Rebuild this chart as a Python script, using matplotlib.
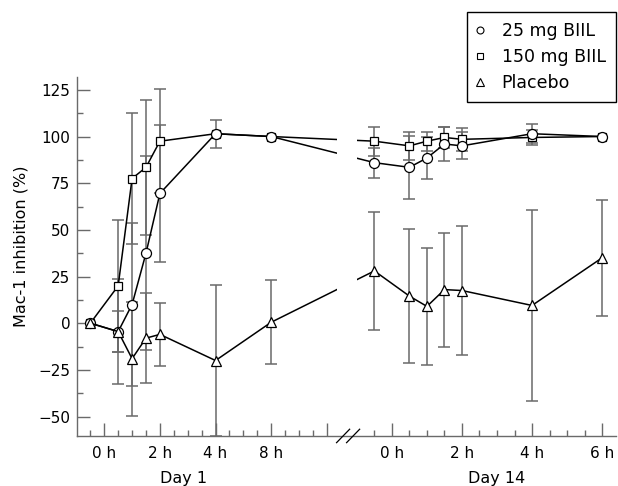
#! /usr/bin/env python

import numpy as np
import matplotlib
matplotlib.use("Agg")
import matplotlib.pyplot as plt
from matplotlib.lines import Line2D

# sampling times (hours) on each study day
day1_hours = [-0.5, 0.5, 1, 1.5, 2, 4, 8]
day14_hours = [-0.5, 0.5, 1, 1.5, 2, 4, 6]

# Mac-1 inhibition (%) and SD, day 1
bi25_d1 = [0, -4.5, 10, 37.5, 69.5, 101.5, 100]
bi25_d1_sd = [0, 28, 43.5, 52, 36.5, 7.5, 0]
bi150_d1 = [0, 20, 77.5, 83.5, 97.5, 101.5, 100]
bi150_d1_sd = [0, 35.5, 35, 36, 27.7, 0, 0]
plac_d1 = [0, -4.5, -19, -8, -6, -20, 0.5]
plac_d1_sd = [0, 11, 30.5, 24, 17, 40.5, 22.5]

# day 14
bi25_d14 = [86, 83.5, 88.5, 96, 95, 101.5, 100]
bi25_d14_sd = [8, 17, 11, 9, 7.3, 5, 0]
bi150_d14 = [97.5, 95, 97.5, 99.5, 98.5, 99.5, 100]
bi150_d14_sd = [7.7, 7.5, 5, 5.4, 6, 4, 0]
plac_d14 = [28, 14.5, 9, 18, 17.5, 9.5, 35]
plac_d14_sd = [31.5, 36, 31.5, 30.5, 34.5, 51, 31]

day1_ticks = [0, 2, 4, 8, 12]
day1_ticklabels = ['0 h', '2 h', '4 h', '8 h', '']
day14_ticks = [0, 2, 4, 6]
day14_ticklabels = ['0 h', '2 h', '4 h', '6 h']

# day 1 axis is stretched (half hour steps up to 4 h, then hourly)
def day1_pos(h):
    return np.interp(h, [-0.5, 4, 12], [0, 9, 17])

# day 14 axis is linear, placed after the break
D14_ZERO = 21.68
D14_RATE = 2.518

def day14_pos(h):
    return D14_ZERO + D14_RATE * np.asarray(h, dtype=float)

ERR_COLOR = '#6a6a6a'
AX_COLOR = '#6a6a6a'

fig = plt.figure(figsize=[6.18, 4.86], dpi=100)
ax = fig.add_axes([0.124, 0.103, 0.873, 0.739])

x = np.concatenate([day1_pos(day1_hours), day14_pos(day14_hours)])

series = [
    (bi150_d1 + bi150_d14, bi150_d1_sd + bi150_d14_sd, 's', 6.2),
    (bi25_d1 + bi25_d14, bi25_d1_sd + bi25_d14_sd, 'o', 7.2),
    (plac_d1 + plac_d14, plac_d1_sd + plac_d14_sd, '^', 7.4),
]

for y, sd, mk, ms in series:
    y = np.array(y)
    sd = np.array(sd)
    m = sd > 0
    ax.errorbar(x[m], y[m], yerr=sd[m], fmt='none', ecolor=ERR_COLOR,
                elinewidth=1.1, capsize=4.5, capthick=1.1, zorder=1.5)
    ax.plot(x, y, color='k', lw=1.1, marker=mk, ms=ms, mfc='white',
            mec='k', mew=0.9, zorder=2)

# gap in the lines at the axis break
ax.axvspan(17.72, 19.18, color='white', zorder=3, lw=0)

ax.set_xlim(-0.986, 37.8)
ax.set_ylim(-60.4, 132)

for s in ['top', 'right']:
    ax.spines[s].set_visible(False)
for s in ['left', 'bottom']:
    ax.spines[s].set_color(AX_COLOR)
    ax.spines[s].set_linewidth(1.0)
    ax.spines[s].set_zorder(5)

# break marks
for xc in [18.17, 18.89]:
    ax.plot([xc - 0.47, xc + 0.47], [-60.4 - 3.6, -60.4 + 3.6], color='k',
            lw=0.9, clip_on=False, zorder=6)

major_x = list(day1_pos(day1_ticks)) + list(day14_pos(day14_ticks))
ax.set_xticks(major_x)
ax.set_xticklabels(day1_ticklabels + day14_ticklabels)
minor_x = list(range(0, 18)) + list(day14_pos(np.arange(-0.5, 6.01, 0.5)))
ax.set_xticks(minor_x, minor=True)

ax.set_yticks(np.arange(-50, 126, 25))
ax.set_yticks(np.arange(-50, 131, 12.5), minor=True)

ax.tick_params(which='both', direction='in', color=AX_COLOR, width=1.0,
               labelsize=11)
ax.tick_params(which='major', length=9.5)
ax.tick_params(which='minor', length=4.5)
ax.tick_params(axis='x', pad=7)
ax.tick_params(axis='y', pad=4.5)

ax.set_ylabel('Mac-1 inhibition (%)', fontsize=11.5)
ax.yaxis.set_label_coords(-0.09, 0.528)

ax.text(6.73, -0.118, 'Day 1', transform=ax.get_xaxis_transform(),
        ha='center', va='center', fontsize=11.5)
ax.text(day14_pos(3), -0.118, 'Day 14', transform=ax.get_xaxis_transform(),
        ha='center', va='center', fontsize=11.5)

handles = [
    Line2D([], [], ls='none', marker='o', ms=5, mfc='white', mec='k', mew=0.8),
    Line2D([], [], ls='none', marker='s', ms=4.8, mfc='white', mec='k', mew=0.8),
    Line2D([], [], ls='none', marker='^', ms=5.2, mfc='white', mec='k', mew=0.8),
]
leg = fig.legend(handles, ['25 mg BIIL', '150 mg BIIL', 'Placebo'],
                 loc='upper right', bbox_to_anchor=(0.997, 0.976),
                 fontsize=12.5, frameon=True, fancybox=False,
                 edgecolor='k', framealpha=1, handlelength=0.3,
                 handletextpad=1.1, borderpad=0.6, labelspacing=0.45,
                 borderaxespad=0)
leg.get_frame().set_linewidth(1.0)

plt.savefig('out.png', dpi=100)
